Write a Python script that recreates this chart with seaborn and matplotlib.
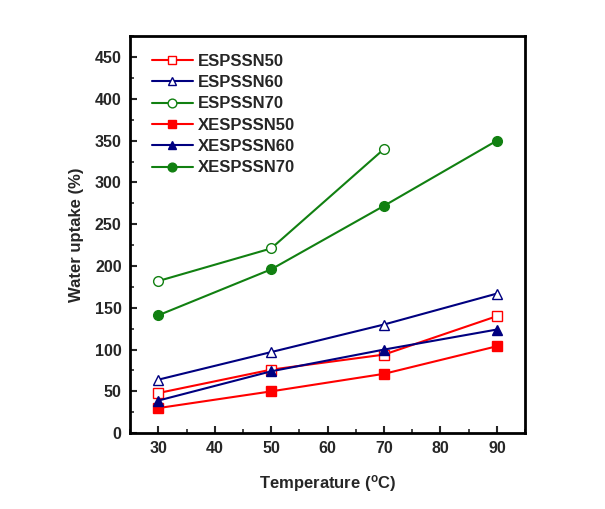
import matplotlib
matplotlib.use("Agg")
import matplotlib.pyplot as plt
import seaborn as sns
import pandas as pd
from matplotlib.ticker import MultipleLocator

sns.set_theme(style="ticks")
plt.rcParams['font.family'] = ['Liberation Sans', 'DejaVu Sans']
plt.rcParams['font.weight'] = 'bold'

temps = [30, 50, 70, 90]
espssn50 = [48, 76, 94, 140]
espssn60 = [64, 97, 130, 167]
espssn70 = [182, 221, 340]
xespssn50 = [30, 50, 71, 104]
xespssn60 = [39, 74, 100, 124]
xespssn70 = [141, 196, 272, 350]

series = [
    ("ESPSSN50", espssn50, "#ff0000", "s", False),
    ("ESPSSN60", espssn60, "#000080", "^", False),
    ("ESPSSN70", espssn70, "#118011", "o", False),
    ("XESPSSN50", xespssn50, "#ff0000", "s", True),
    ("XESPSSN60", xespssn60, "#000080", "^", True),
    ("XESPSSN70", xespssn70, "#118011", "o", True),
]

fig = plt.figure(figsize=(6.05, 5.09), dpi=100)
ax = fig.add_axes([0.215, 0.149, 0.653, 0.780])

for name, vals, col, mk, filled in series:
    df = pd.DataFrame({"T": temps[:len(vals)], "W": vals})
    sns.lineplot(data=df, x="T", y="W", ax=ax, color=col, marker=mk,
                 markersize=6.5 if mk != "o" else 7,
                 markerfacecolor=col if filled else "white",
                 markeredgecolor=col, markeredgewidth=1.0,
                 linewidth=1.5, label=name)

ax.set_xlim(25, 95)
ax.set_ylim(0, 475)
ax.xaxis.set_major_locator(MultipleLocator(10))
ax.xaxis.set_minor_locator(MultipleLocator(5))
ax.yaxis.set_major_locator(MultipleLocator(50))
ax.yaxis.set_minor_locator(MultipleLocator(25))
ax.tick_params(which="major", direction="in", length=5, width=1.5, labelsize=11.5, pad=6)
ax.tick_params(which="minor", direction="in", length=3, width=1.2)
for lab in ax.get_xticklabels() + ax.get_yticklabels():
    lab.set_fontweight("bold")
for s in ax.spines.values():
    s.set_linewidth(2)
    s.set_color("black")

ax.set_xlabel("Temperature ($\\mathregular{^{o}}$C)", fontsize=12, fontweight="bold", labelpad=12)
ax.set_ylabel("Water uptake (%)", fontsize=12, fontweight="bold", labelpad=8)

leg = ax.legend(loc="upper left", frameon=False, fontsize=12, handlelength=2.5,
                handletextpad=0.25, labelspacing=0.38, borderaxespad=0.3,
                markerscale=0.9, bbox_to_anchor=(0.025, 0.985))
for t in leg.get_texts():
    t.set_fontweight("bold")

fig.savefig("out.png", dpi=100)
